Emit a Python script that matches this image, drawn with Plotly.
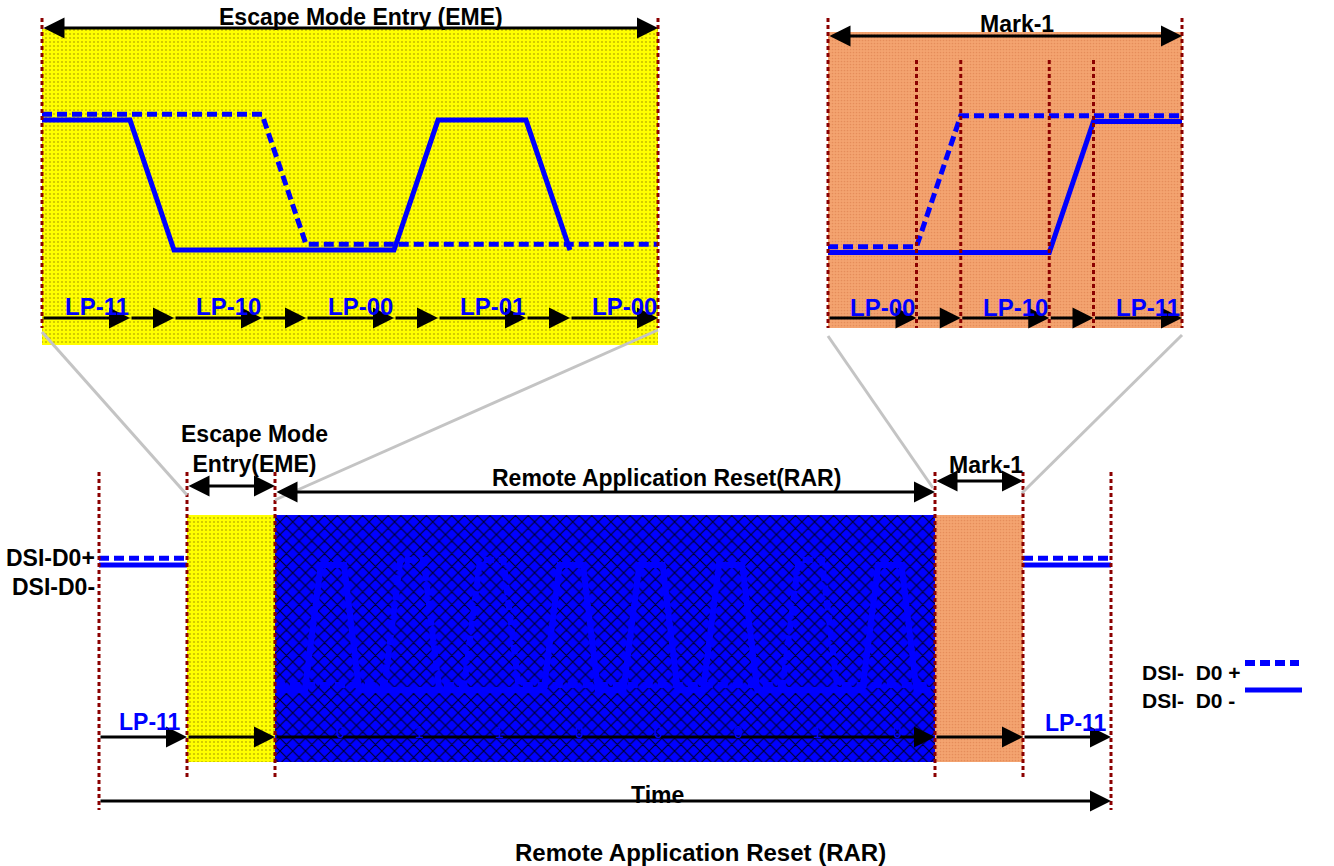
import plotly.graph_objects as go

W, H = 1334, 866

# ---------------- data ----------------
# Escape Mode Entry zoom panel (time in units, logic levels 0/1)
eme_states = ["LP-11", "LP-10", "LP-00", "LP-01", "LP-00"]
eme_bounds = [0, 2, 3, 5, 6, 8, 9, 11, 12, 14]
eme_dp_t = [0, 5, 6, 14]
eme_dp_v = [1, 1, 0, 0]
eme_dn_t = [0, 2, 3, 8, 9, 11, 12]
eme_dn_v = [1, 1, 0, 0, 1, 1, 0]

# Mark-1 zoom panel
mark_states = ["LP-00", "LP-10", "LP-11"]
mark_bounds = [0, 2, 3, 5, 6, 8]
mark_dp_t = [0, 2, 3, 8]
mark_dp_v = [0, 0, 1, 1]
mark_dn_t = [0, 5, 6, 8]
mark_dn_v = [0, 0, 1, 1]

# Main timeline
phases = ["LP-11", "EME", "RAR", "Mark-1", "LP-11"]
phase_bounds = [0, 1, 2, 9.5, 10.5, 11.5]
rar_bits = [0, 1, 1, 0, 0, 0, 1, 0]
stub_level = [1, 1]

# ---------------- style / layout constants ----------------
FONT = "Liberation Sans, Arial, sans-serif"
BLUE = "#0000FF"
RED = "#8B0000"
GREY = "#C4C4C4"
DASH = "10px,5px"
RED_DASH = "4px,3px"

# axis mappings: (pixel origin, pixels per unit)
EME_X, EME_Y = (42.0, 44.0), (247.5, 130.0)
MRK_X, MRK_Y = (828.0, 44.25), (250.0, 131.0)
TL_X, TL_Y = (99.0, 88.0), (690.0, 125.0)

BIT_START, BIT_PITCH = 2.74, 0.905
PULSE = [-0.40, -0.22, 0.045, 0.215]
LABEL_SHIFT = 0.24


def xrange_(m):
    x0, k = m
    return [-x0 / k, (W - x0) / k]


def yrange_(m):
    y0, k = m
    return [(y0 - H) / k, y0 / k]


def v_of(m, py):
    y0, k = m
    return (y0 - py) / k


fig = go.Figure()


def region(xa, ya, ym, u0, u1, py_top, py_bot, color, pattern):
    v0, v1 = v_of(ym, py_bot), v_of(ym, py_top)
    fig.add_trace(go.Scatter(
        x=[u0, u1, u1, u0, u0], y=[v0, v0, v1, v1, v0],
        fill="toself", fillcolor=color, fillpattern=pattern,
        mode="lines", line=dict(width=0, color=color),
        xaxis=xa, yaxis=ya, hoverinfo="skip", showlegend=False))


def wave(xa, ya, t, v, dashed, off, width=5):
    fig.add_trace(go.Scatter(
        x=t, y=[a + off for a in v], mode="lines",
        line=dict(color=BLUE, width=width, dash=DASH if dashed else "solid"),
        xaxis=xa, yaxis=ya, hoverinfo="skip", showlegend=False))


yellow_pat = dict(shape=".", size=4, solidity=0.22, fgcolor="#C8C000",
                  bgcolor="#FFFF00", fillmode="replace")
blue_pat = dict(shape="x", size=9, solidity=0.22, fgcolor="#00002A",
                bgcolor="#0000FF", fillmode="replace")
orange_pat = dict(shape=".", size=3, solidity=0.25, fgcolor="#E58D5A",
                  bgcolor="#F4A470", fillmode="replace")

# ---- top panels ----
region("x2", "y2", EME_Y, eme_bounds[0], eme_bounds[-1], 29, 345, "#FFFF00", yellow_pat)
wave("x2", "y2", eme_dp_t, eme_dp_v, True, 0.025)
wave("x2", "y2", eme_dn_t, eme_dn_v, False, -0.02)

region("x3", "y3", MRK_Y, mark_bounds[0], mark_bounds[-1], 32, 328, "#F4A470", orange_pat)
wave("x3", "y3", mark_dp_t, mark_dp_v, True, 0.025)
wave("x3", "y3", mark_dn_t, mark_dn_v, False, -0.02)

# ---- main timeline ----
region("x4", "y4", TL_Y, phase_bounds[1], phase_bounds[2], 515, 762, "#FFFF00", yellow_pat)
region("x4", "y4", TL_Y, phase_bounds[2], phase_bounds[3], 515, 762, "#0000FF", blue_pat)
region("x4", "y4", TL_Y, phase_bounds[3], phase_bounds[4], 515, 762, "#F4A470", orange_pat)


def lane(bit_val):
    t, v = [phase_bounds[2]], [0]
    for i, b in enumerate(rar_bits):
        if b == bit_val:
            L = BIT_START + i * BIT_PITCH
            t += [L + p for p in PULSE]
            v += [0, 1, 1, 0]
    t.append(phase_bounds[3] - 0.05)
    v.append(0)
    return t, v


tp, vp = lane(1)
tn, vn = lane(0)
wave("x4", "y4", tn, vn, False, 0.0, 6)
wave("x4", "y4", tp, vp, True, 0.04, 6)
# LP-11 stubs before EME and after Mark-1
wave("x4", "y4", phase_bounds[0:2], stub_level, False, 0.0)
wave("x4", "y4", phase_bounds[0:2], stub_level, True, 0.055)
wave("x4", "y4", phase_bounds[4:6], stub_level, False, 0.0)
wave("x4", "y4", phase_bounds[4:6], stub_level, True, 0.055)

# ---------------- shapes ----------------
shapes = []


def vline(xref, u, y0, y1):
    shapes.append(dict(type="line", xref=xref, yref="y", x0=u, x1=u, y0=y0, y1=y1,
                       line=dict(color=RED, width=3, dash=RED_DASH), layer="above"))


vline("x2", eme_bounds[0], 18, 328)
vline("x2", eme_bounds[-1], 18, 328)
vline("x3", mark_bounds[0], 18, 328)
vline("x3", mark_bounds[-1], 18, 328)
for u in mark_bounds[1:-1]:
    vline("x3", u, 60, 328)
vline("x4", phase_bounds[0], 472, 810)
vline("x4", phase_bounds[-1], 472, 810)
for u in phase_bounds[1:-1]:
    vline("x4", u, 472, 780)

# grey zoom connector lines
for (x0, y0, x1, y1) in [(42, 332, 187, 495), (658, 330, 275, 500),
                         (828, 336, 933, 488), (1182, 335, 1022, 493)]:
    shapes.append(dict(type="line", xref="x", yref="y", x0=x0, y0=y0, x1=x1, y1=y1,
                       line=dict(color=GREY, width=3), layer="above"))

# legend samples
shapes.append(dict(type="line", xref="x", yref="y", x0=1245, x1=1299, y0=663, y1=663,
                   line=dict(color=BLUE, width=6, dash=DASH)))
shapes.append(dict(type="line", xref="x", yref="y", x0=1245, x1=1302, y0=690, y1=690,
                   line=dict(color=BLUE, width=5)))

# ---------------- annotations ----------------
ann = []


def arrow(xref, x_from, x_to, py, both=False, width=3, size=1.4):
    ann.append(dict(x=x_to, y=py, ax=x_from, ay=py, xref=xref, yref="y",
                    axref=xref, ayref="y", text="", showarrow=True,
                    arrowhead=2, arrowsize=size, arrowwidth=width, arrowcolor="black",
                    arrowside="end+start" if both else "end",
                    startarrowhead=2, startarrowsize=size,
                    standoff=0, startstandoff=0))


def text(xref, x, py, s, size=23, color="black", bold=True, xanchor="center"):
    ann.append(dict(x=x, y=py, xref=xref, yref="y", showarrow=False,
                    text=("<b>%s</b>" % s) if bold else s,
                    font=dict(family=FONT, size=size, color=color),
                    xanchor=xanchor, yanchor="middle"))


# top EME panel
arrow("x2", eme_bounds[0], eme_bounds[-1], 28, both=True)
for i in range(len(eme_bounds) - 1):
    arrow("x2", eme_bounds[i], eme_bounds[i + 1], 318)
for i, s in enumerate(eme_states):
    c = (eme_bounds[2 * i] + eme_bounds[2 * i + 1]) / 2 + LABEL_SHIFT
    text("x2", c, 306, s, size=24, color=BLUE)
text("x", 361, 17, "Escape Mode Entry (EME)")

# top Mark-1 panel
arrow("x3", mark_bounds[0], mark_bounds[-1], 36, both=True)
for i in range(len(mark_bounds) - 1):
    arrow("x3", mark_bounds[i], mark_bounds[i + 1], 318)
for i, s in enumerate(mark_states):
    c = (mark_bounds[2 * i] + mark_bounds[2 * i + 1]) / 2 + LABEL_SHIFT
    text("x3", c, 307, s, size=24, color=BLUE)
text("x", 1017, 24, "Mark-1")

# main timeline
for i in range(len(phase_bounds) - 1):
    arrow("x4", phase_bounds[i], phase_bounds[i + 1], 737)
arrow("x4", phase_bounds[0], phase_bounds[-1], 801)
arrow("x4", phase_bounds[1], phase_bounds[2], 486, both=True)
arrow("x4", phase_bounds[2], phase_bounds[3], 492, both=True)
arrow("x4", phase_bounds[3], phase_bounds[4], 481, both=True)

text("x4", (phase_bounds[0] + phase_bounds[1]) / 2 + 0.08, 722, phases[0], color=BLUE)
text("x4", (phase_bounds[4] + phase_bounds[5]) / 2 + 0.1, 723, phases[4], color=BLUE)
for i, b in enumerate(rar_bits):
    text("x4", BIT_START + i * BIT_PITCH, 732, str(b), size=16, color=BLUE, bold=False)

text("x", 254, 449, "Escape Mode<br>Entry(EME)")
text("x", 666, 478, "Remote Application Reset(RAR)")
text("x", 986, 465, "Mark-1")
text("x", 657, 795, "Time")
text("x", 700, 852, "Remote Application Reset (RAR)", size=24)
text("x", 97, 558, "DSI-D0+", xanchor="right")
text("x", 97, 587, "DSI-D0-", xanchor="right")
text("x", 1140, 672, "DSI-\u00a0 D0 +", size=21, xanchor="left")
text("x", 1140, 700, "DSI-\u00a0 D0 -", size=21, xanchor="left")

# ---------------- layout ----------------
hidden = dict(visible=False, showgrid=False, zeroline=False, fixedrange=True)
fig.update_layout(
    width=W, height=H, autosize=False,
    margin=dict(l=0, r=0, t=0, b=0),
    paper_bgcolor="white", plot_bgcolor="white",
    showlegend=False,
    xaxis=dict(range=[0, W], domain=[0, 1], **hidden),
    yaxis=dict(range=[H, 0], domain=[0, 1], **hidden),
    xaxis2=dict(range=xrange_(EME_X), overlaying="x", anchor="y2", **hidden),
    yaxis2=dict(range=yrange_(EME_Y), overlaying="y", anchor="x2", **hidden),
    xaxis3=dict(range=xrange_(MRK_X), overlaying="x", anchor="y3", **hidden),
    yaxis3=dict(range=yrange_(MRK_Y), overlaying="y", anchor="x3", **hidden),
    xaxis4=dict(range=xrange_(TL_X), overlaying="x", anchor="y4", **hidden),
    yaxis4=dict(range=yrange_(TL_Y), overlaying="y", anchor="x4", **hidden),
    shapes=shapes,
    annotations=ann,
)

fig.write_html("out.html", config={"displayModeBar": False},
               post_script="document.body.style.margin='0';document.body.style.overflow='hidden';")
